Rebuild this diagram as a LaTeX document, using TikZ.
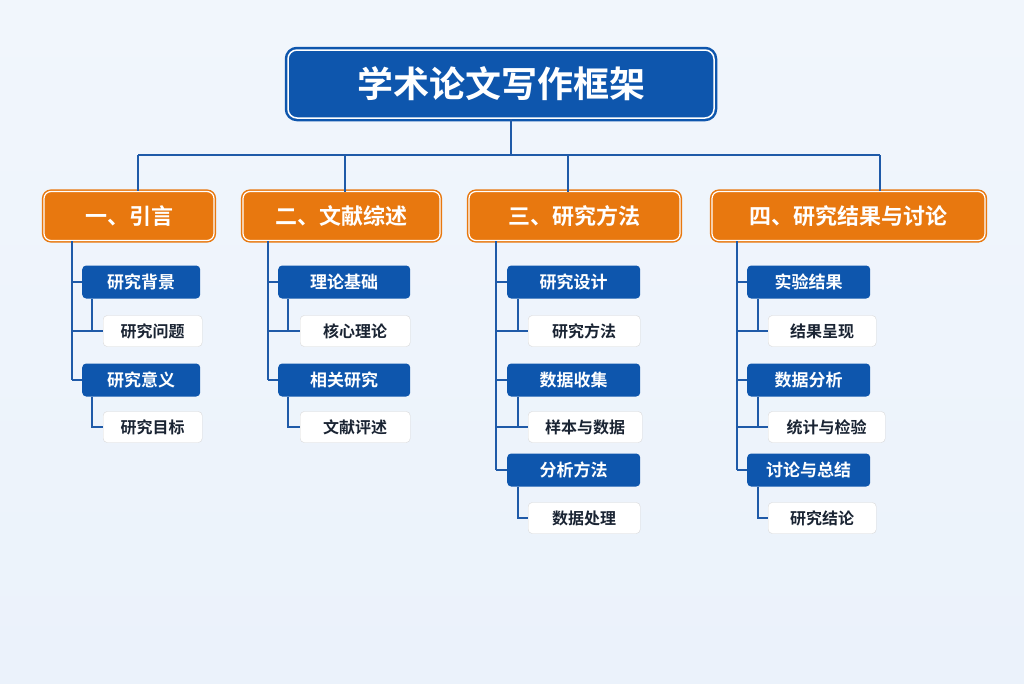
\documentclass[tikz,border=0pt]{standalone}
\usepackage{fontspec}
\setmainfont{Noto Sans CJK SC}[BoldFont={Noto Sans CJK SC Bold}]
\usetikzlibrary{positioning}
\definecolor{bl}{HTML}{0E56AD}
\definecolor{ln}{HTML}{1F5AA8}
\definecolor{og}{HTML}{E8780F}
\definecolor{bg}{HTML}{EBF2FB}
\definecolor{tx}{HTML}{1A2433}
\begin{document}
\begin{tikzpicture}[x=1pt,y=-1pt,
 title/.style={draw=bl,line width=2.5pt,fill=bl,rounded corners=9pt,text=white,font=\bfseries\fontsize{36}{40}\selectfont,minimum width=426pt,minimum height=68pt,double=white,double distance=1.5pt},
 cat/.style={draw=og,line width=1.5pt,fill=og,rounded corners=7pt,text=white,font=\bfseries\fontsize{22}{26}\selectfont,minimum height=49pt,double=white,double distance=1.2pt},
 bsub/.style={fill=bl,rounded corners=4pt,text=white,font=\bfseries\fontsize{17}{20}\selectfont,minimum height=33pt,inner sep=0pt},
 wsub/.style={fill=white,draw=gray!30,rounded corners=4pt,text=tx,font=\bfseries\fontsize{16}{19}\selectfont,minimum height=31pt,inner sep=0pt},
 con/.style={draw=ln,line width=2pt}]
\useasboundingbox (0,0) rectangle (1024,683);
\fill[top color=bg!70!white,bottom color=bg] (0,0) rectangle (1024,683);
\node[title] (T) at (501,84) {学术论文写作框架};
\coordinate (b0) at (511,155);
\coordinate (bl) at (138,155);
\coordinate (br) at (880,155);
\node[cat,minimum width=170pt] (C1) at (129,216) {一、引言};
\node[cat,minimum width=197pt] (C2) at (341.5,216) {二、文献综述};
\node[cat,minimum width=211pt] (C3) at (574.5,216) {三、研究方法};
\node[cat,minimum width=273pt] (C4) at (848.5,216) {四、研究结果与讨论};
\draw[con] (b0|-T.south) -- (b0);
\draw[con] (bl) -- (br);
\draw[con] (bl) -- (bl|-C1.north);
\draw[con] (345,155) -- (345,192);
\draw[con] (568,155) -- (568,192);
\draw[con] (br) -- (br|-C4.north);
\def\mk#1#2#3#4#5#6{\node[#1,minimum width=#4pt-#3pt,anchor=west] (#2) at (#3,#5) {#6};}
% Column 1
\mk{bsub}{a1}{82}{200}{282}{研究背景}
\mk{wsub}{a2}{103}{202}{331}{研究问题}
\mk{bsub}{a3}{82}{200}{380}{研究意义}
\mk{wsub}{a4}{103}{202}{427}{研究目标}
\draw[con] (72,241) -- (72,380);
\foreach \n in {a1,a2,a3} \draw[con] (72,0|-\n.west) -- (\n.west);
\draw[con] (92,0|-a1.south) -- (92,0|-a2.west) -- (a2.west);
\draw[con] (92,0|-a3.south) -- (92,0|-a4.west) -- (a4.west);
% Column 2
\mk{bsub}{b1}{278}{410}{282}{理论基础}
\mk{wsub}{b2}{300}{410}{331}{核心理论}
\mk{bsub}{b3}{278}{410}{380}{相关研究}
\mk{wsub}{b4}{300}{410}{427}{文献评述}
\draw[con] (268,241) -- (268,380);
\foreach \n in {b1,b2,b3} \draw[con] (268,0|-\n.west) -- (\n.west);
\draw[con] (288,0|-b1.south) -- (288,0|-b2.west) -- (b2.west);
\draw[con] (288,0|-b3.south) -- (288,0|-b4.west) -- (b4.west);
% Column 3
\mk{bsub}{c1}{507}{640}{282}{研究设计}
\mk{wsub}{c2}{528}{640}{331}{研究方法}
\mk{bsub}{c3}{507}{640}{380}{数据收集}
\mk{wsub}{c4}{528}{642}{427}{样本与数据}
\mk{bsub}{c5}{507}{640}{470}{分析方法}
\mk{wsub}{c6}{528}{640}{518}{数据处理}
\draw[con] (496,241) -- (496,470);
\foreach \n in {c1,c2,c3,c4,c5} \draw[con] (496,0|-\n.west) -- (\n.west);
\draw[con] (518,0|-c1.south) -- (518,0|-c2.west) -- (c2.west);
\draw[con] (518,0|-c3.south) -- (518,0|-c4.west) -- (c4.west);
\draw[con] (518,0|-c5.south) -- (518,0|-c6.west) -- (c6.west);
% Column 4
\mk{bsub}{d1}{747}{870}{282}{实验结果}
\mk{wsub}{d2}{768}{876}{331}{结果呈现}
\mk{bsub}{d3}{747}{870}{380}{数据分析}
\mk{wsub}{d4}{768}{885}{427}{统计与检验}
\mk{bsub}{d5}{747}{870}{470}{讨论与总结}
\mk{wsub}{d6}{768}{876}{518}{研究结论}
\draw[con] (737,241) -- (737,470);
\foreach \n in {d1,d2,d3,d4,d5} \draw[con] (737,0|-\n.west) -- (\n.west);
\draw[con] (758,0|-d1.south) -- (758,0|-d2.west) -- (d2.west);
\draw[con] (758,0|-d3.south) -- (758,0|-d4.west) -- (d4.west);
\draw[con] (758,0|-d5.south) -- (758,0|-d6.west) -- (d6.west);
\end{tikzpicture}
\end{document}
